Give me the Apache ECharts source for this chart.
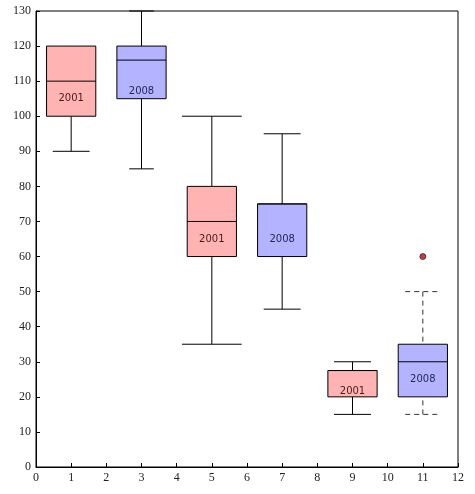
<!DOCTYPE html>
<html>
<head>
<meta charset="utf-8">
<script src="https://cdn.jsdelivr.net/npm/echarts@6/dist/echarts.min.js"></script>
<style>
  html, body { margin: 0; padding: 0; background: #fff; }
  #chart { width: 475px; height: 494px; }
</style>
</head>
<body>
<div id="chart"></div>
<script>
// box positions and five-number summaries
var positions = [1, 3, 5, 7, 9, 11];
var lowWhisker = [90, 85, 35, 45, 15, 15];
var lowerQuartile = [100, 105, 60, 60, 20, 20];
var medians = [110, 116, 70, 75, 27.5, 30];
var upperQuartile = [120, 120, 80, 75, 27.5, 35];
var highWhisker = [120, 130, 100, 95, 30, 50];
var years = ['2001', '2008', '2001', '2008', '2001', '2008'];
var labelAt = [105, 107, 65, 65, 21.5, 25];
var outliers = [[11, 60]];

// cap widths (in x units) and look of each box
var capWidths = [1.05, 0.7, 1.7, 1.05, 1.05, 1.0];
var dashed = [false, false, false, false, false, true];
var fills = ['#ffb3b3', '#b3b3ff', '#ffb3b3', '#b3b3ff', '#ffb3b3', '#b3b3ff'];
var textColors = ['#4a1a1a', '#26265a', '#4a1a1a', '#26265a', '#4a1a1a', '#26265a'];

var boxData = positions.map(function (x, i) {
    return [x, lowWhisker[i], lowerQuartile[i], medians[i], upperQuartile[i], highWhisker[i], labelAt[i]];
});

var serif = '"Liberation Serif", "DejaVu Serif", serif';

var chart = echarts.init(document.getElementById('chart'));

chart.setOption({
    animation: false,
    grid: {
        left: 36, right: 17, top: 11, bottom: 27,
        show: true, borderColor: '#000', borderWidth: 1
    },
    xAxis: {
        type: 'value', min: 0, max: 12, interval: 1,
        axisLine: { show: true, lineStyle: { color: '#000', width: 1 } },
        axisTick: { show: true, inside: true, length: 4, lineStyle: { color: '#000' } },
        axisLabel: { color: '#222', fontFamily: serif, fontSize: 12, margin: 5 },
        splitLine: { show: false }
    },
    yAxis: {
        type: 'value', min: 0, max: 130, interval: 10,
        axisLine: { show: true, lineStyle: { color: '#000', width: 1 } },
        axisTick: { show: true, inside: true, length: 4, lineStyle: { color: '#000' } },
        axisLabel: { color: '#222', fontFamily: serif, fontSize: 12, margin: 5 },
        splitLine: { show: false }
    },
    series: [{
        type: 'custom',
        data: boxData,
        clip: false,
        renderItem: function (params, api) {
            var i = params.dataIndex;
            var x = api.value(0);
            var halfBox = api.size([1.4, 0])[0] / 2;
            var halfCap = api.size([capWidths[i], 0])[0] / 2;
            var pLow = api.coord([x, api.value(1)]);
            var pQ1 = api.coord([x, api.value(2)]);
            var pMed = api.coord([x, api.value(3)]);
            var pQ3 = api.coord([x, api.value(4)]);
            var pHigh = api.coord([x, api.value(5)]);
            var pText = api.coord([x, api.value(6)]);
            var cx = pLow[0];
            var wStyle = {
                stroke: dashed[i] ? '#333' : '#000',
                lineWidth: 1,
                lineDash: dashed[i] ? [5, 4] : null
            };
            var children = [];
            if (pLow[1] !== pQ1[1]) {
                children.push({ type: 'line', shape: { x1: cx, y1: pLow[1], x2: cx, y2: pQ1[1] }, style: wStyle });
                children.push({ type: 'line', shape: { x1: cx - halfCap, y1: pLow[1], x2: cx + halfCap, y2: pLow[1] }, style: wStyle });
            }
            if (pHigh[1] !== pQ3[1]) {
                children.push({ type: 'line', shape: { x1: cx, y1: pHigh[1], x2: cx, y2: pQ3[1] }, style: wStyle });
                children.push({ type: 'line', shape: { x1: cx - halfCap, y1: pHigh[1], x2: cx + halfCap, y2: pHigh[1] }, style: wStyle });
            }
            children.push({
                type: 'rect',
                shape: { x: cx - halfBox, y: pQ3[1], width: halfBox * 2, height: pQ1[1] - pQ3[1] },
                style: { fill: fills[i], stroke: '#000', lineWidth: 1 }
            });
            children.push({
                type: 'line',
                shape: { x1: cx - halfBox, y1: pMed[1], x2: cx + halfBox, y2: pMed[1] },
                style: { stroke: '#000', lineWidth: 1 }
            });
            children.push({
                type: 'text',
                x: cx, y: pText[1],
                style: {
                    text: years[i], fill: textColors[i],
                    font: '10px "DejaVu Sans", sans-serif',
                    align: 'center', verticalAlign: 'middle'
                }
            });
            return { type: 'group', children: children };
        },
        encode: { x: 0, y: [1, 2, 3, 4, 5] }
    }, {
        type: 'scatter',
        data: outliers,
        symbol: 'circle',
        symbolSize: 6,
        itemStyle: { color: '#a81414', borderColor: '#4a0000', borderWidth: 0.8 }
    }]
});
</script>
</body>
</html>
